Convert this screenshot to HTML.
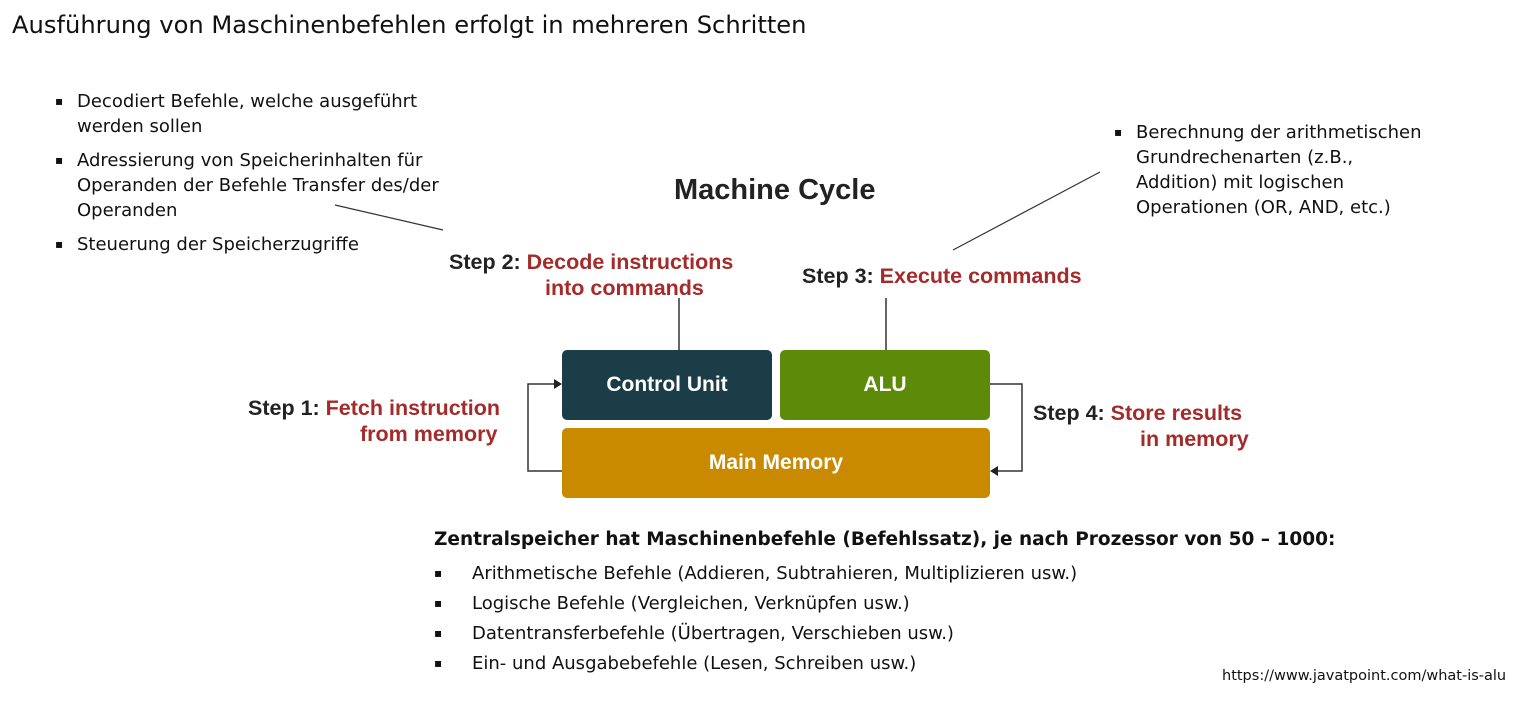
<!DOCTYPE html>
<html><head><meta charset="utf-8"><style>
body{margin:0;width:1525px;height:705px;background:#fff;position:relative;overflow:hidden;font-family:"DejaVu Sans",sans-serif;color:#111}
.a{position:absolute;white-space:nowrap}
.t{font-size:18px;line-height:25px}
.d{position:absolute;font-size:12px;line-height:25px}
.box{position:absolute;border-radius:5px;color:#fff;font-weight:bold;font-size:21px;display:flex;align-items:center;justify-content:center;font-family:"Liberation Sans",sans-serif}
.s{position:absolute;font-weight:bold;font-size:21.5px;line-height:26px;color:#222;white-space:nowrap;font-family:"Liberation Sans",sans-serif}
.r{color:#a52a2a}
</style></head><body>
<div class="a" style="left:12px;top:11px;font-size:24.2px">Ausführung von Maschinenbefehlen erfolgt in mehreren Schritten</div>

<div class="d" style="left:55px;top:89px">▪</div>
<div class="a t" style="left:77px;top:89px">Decodiert Befehle, welche ausgeführt<br>werden sollen</div>
<div class="d" style="left:55px;top:148px">▪</div>
<div class="a t" style="left:77px;top:148px">Adressierung von Speicherinhalten für<br>Operanden der Befehle Transfer des/der<br>Operanden</div>
<div class="d" style="left:55px;top:232px">▪</div>
<div class="a t" style="left:77px;top:232px">Steuerung der Speicherzugriffe</div>

<div class="d" style="left:1114px;top:120px">▪</div>
<div class="a t" style="left:1136px;top:120px">Berechnung der arithmetischen<br>Grundrechenarten (z.B.,<br>Addition) mit logischen<br>Operationen (OR, AND, etc.)</div>

<div class="a" style="left:674px;top:174px;font-size:29px;font-weight:bold;color:#222;font-family:'Liberation Sans',sans-serif">Machine Cycle</div>

<svg class="a" style="left:0;top:0" width="1525" height="705">
<line x1="335" y1="205" x2="443" y2="230" stroke="#333" stroke-width="1.2"/>
<line x1="1100" y1="172" x2="953" y2="250" stroke="#333" stroke-width="1.2"/>
<line x1="679" y1="298" x2="679" y2="350" stroke="#333" stroke-width="1.5"/>
<line x1="886" y1="298" x2="886" y2="350" stroke="#333" stroke-width="1.5"/>
<polyline points="562,471 528,471 528,384 556,384" fill="none" stroke="#333" stroke-width="1.5"/>
<polygon points="562,384 554,379 554,389" fill="#222"/>
<polyline points="990,384 1022,384 1022,471 996,471" fill="none" stroke="#333" stroke-width="1.5"/>
<polygon points="990,471 998,466 998,476" fill="#222"/>
</svg>

<div class="s" style="left:449px;top:249px">Step 2: <span class="r">Decode instructions</span></div>
<div class="s r" style="left:545px;top:275px">into commands</div>
<div class="s" style="left:802px;top:263px">Step 3: <span class="r">Execute commands</span></div>
<div class="s" style="left:248px;top:395px">Step 1: <span class="r">Fetch instruction</span></div>
<div class="s r" style="left:360px;top:421px">from memory</div>
<div class="s" style="left:1033px;top:400px">Step 4: <span class="r">Store results</span></div>
<div class="s r" style="left:1140px;top:426px">in memory</div>

<div class="box" style="left:562px;top:350px;width:210px;height:70px;background:#1b3d48">Control Unit</div>
<div class="box" style="left:780px;top:350px;width:210px;height:70px;background:#5e8a0a">ALU</div>
<div class="box" style="left:562px;top:428px;width:428px;height:70px;background:#c98a00">Main Memory</div>

<div class="a" style="left:434px;top:529px;font-size:18.5px;font-weight:bold">Zentralspeicher hat Maschinenbefehle (Befehlssatz), je nach Prozessor von 50 – 1000:</div>
<div class="d" style="left:434px;top:561px">▪</div><div class="a t" style="left:472px;top:561px">Arithmetische Befehle (Addieren, Subtrahieren, Multiplizieren usw.)</div>
<div class="d" style="left:434px;top:591px">▪</div><div class="a t" style="left:472px;top:591px">Logische Befehle (Vergleichen, Verknüpfen usw.)</div>
<div class="d" style="left:434px;top:621px">▪</div><div class="a t" style="left:472px;top:621px">Datentransferbefehle (Übertragen, Verschieben usw.)</div>
<div class="d" style="left:434px;top:651px">▪</div><div class="a t" style="left:472px;top:651px">Ein- und Ausgabebefehle (Lesen, Schreiben usw.)</div>

<div class="a" style="left:1222px;top:668px;font-size:14.5px">https://www.javatpoint.com/what-is-alu</div>
</body></html>
